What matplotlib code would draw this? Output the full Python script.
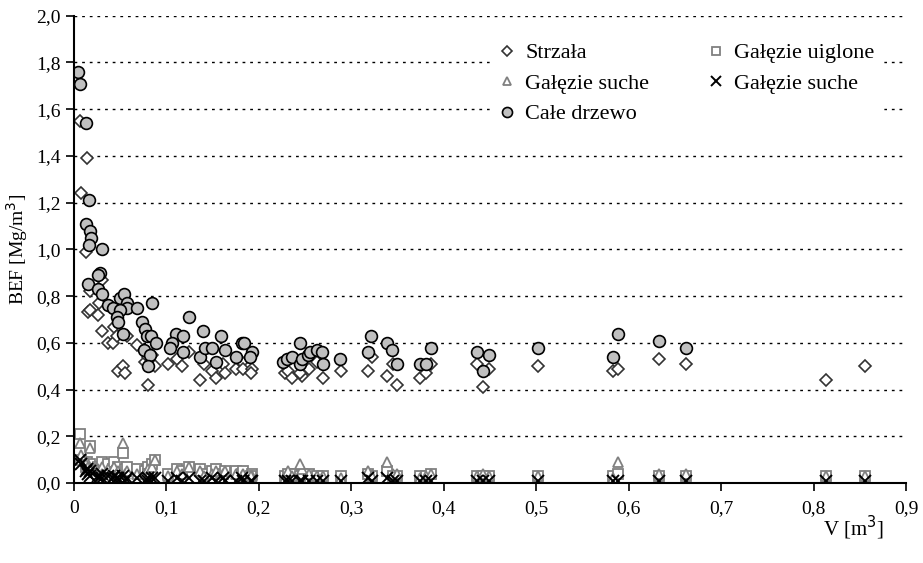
import matplotlib.pyplot as plt
from matplotlib.ticker import FuncFormatter

plt.rcParams['font.family'] = ['Liberation Serif', 'DejaVu Serif']

# Całe drzewo (circles)
v_cale = [0.004, 0.0065, 0.013, 0.016, 0.013, 0.018, 0.019, 0.016, 0.030, 0.028,
          0.026, 0.015, 0.026, 0.030, 0.037, 0.042, 0.050, 0.054, 0.057, 0.057,
          0.050, 0.068, 0.085, 0.047, 0.048, 0.053, 0.074, 0.077, 0.079, 0.083,
          0.089, 0.076, 0.082, 0.080, 0.125, 0.110, 0.106, 0.118, 0.104, 0.118,
          0.136, 0.140, 0.142, 0.149, 0.159, 0.154, 0.163, 0.175, 0.182, 0.184,
          0.193, 0.190, 0.226, 0.230, 0.236, 0.244, 0.244, 0.247, 0.253, 0.255,
          0.263, 0.268, 0.269, 0.288, 0.321, 0.318, 0.339, 0.344, 0.349, 0.374,
          0.381, 0.386, 0.436, 0.449, 0.442, 0.502, 0.588, 0.583, 0.633, 0.662]
bef_cale = [1.76, 1.71, 1.54, 1.21, 1.11, 1.08, 1.05, 1.02, 1.00, 0.90,
            0.89, 0.85, 0.83, 0.81, 0.76, 0.75, 0.79, 0.81, 0.77, 0.75,
            0.74, 0.75, 0.77, 0.71, 0.69, 0.64, 0.69, 0.66, 0.63, 0.63,
            0.60, 0.57, 0.55, 0.50, 0.71, 0.64, 0.60, 0.63, 0.58, 0.56,
            0.54, 0.65, 0.58, 0.58, 0.63, 0.52, 0.57, 0.54, 0.60, 0.60,
            0.56, 0.54, 0.52, 0.53, 0.54, 0.60, 0.51, 0.53, 0.55, 0.56,
            0.57, 0.56, 0.51, 0.53, 0.63, 0.56, 0.60, 0.57, 0.51, 0.51,
            0.51, 0.58, 0.56, 0.55, 0.48, 0.58, 0.64, 0.54, 0.61, 0.58]

# trees (Strzała and branch components)
v_drz = [0.0065, 0.0076, 0.014, 0.013, 0.015, 0.018, 0.017, 0.026, 0.027, 0.030,
         0.030, 0.037, 0.042, 0.043, 0.047, 0.048, 0.053, 0.055, 0.058, 0.068,
         0.077, 0.080, 0.080, 0.085, 0.088, 0.102, 0.111, 0.117, 0.125, 0.136,
         0.141, 0.149, 0.154, 0.161, 0.163, 0.175, 0.182, 0.183, 0.193, 0.191,
         0.228, 0.232, 0.236, 0.247, 0.244, 0.254, 0.263, 0.269, 0.289, 0.318,
         0.322, 0.339, 0.345, 0.349, 0.374, 0.381, 0.386, 0.436, 0.442, 0.449,
         0.502, 0.583, 0.588, 0.633, 0.662, 0.813, 0.855]
strzala = [1.55, 1.24, 1.39, 0.99, 0.73, 0.82, 0.74, 0.72, 0.77, 0.87,
           0.65, 0.60, 0.60, 0.67, 0.63, 0.48, 0.50, 0.47, 0.63, 0.59,
           0.52, 0.54, 0.42, 0.55, 0.50, 0.51, 0.53, 0.50, 0.56, 0.44,
           0.51, 0.48, 0.45, 0.51, 0.47, 0.49, 0.52, 0.49, 0.49, 0.47,
           0.47, 0.48, 0.45, 0.46, 0.47, 0.49, 0.52, 0.45, 0.48, 0.48,
           0.54, 0.46, 0.51, 0.42, 0.45, 0.47, 0.51, 0.51, 0.41, 0.49,
           0.50, 0.48, 0.49, 0.53, 0.51, 0.44, 0.50]
uiglone = [0.21, 0.10, 0.09, 0.07, 0.06, 0.16, 0.08, 0.07, 0.06, 0.09,
           0.05, 0.08, 0.06, 0.09, 0.05, 0.07, 0.13, 0.06, 0.07, 0.06,
           0.05, 0.07, 0.04, 0.08, 0.10, 0.04, 0.06, 0.05, 0.07, 0.06,
           0.04, 0.05, 0.06, 0.04, 0.05, 0.05, 0.04, 0.05, 0.04, 0.03,
           0.03, 0.04, 0.04, 0.04, 0.03, 0.04, 0.03, 0.03, 0.03, 0.04,
           0.03, 0.05, 0.03, 0.03, 0.03, 0.03, 0.04, 0.03, 0.03, 0.03,
           0.03, 0.03, 0.04, 0.03, 0.03, 0.03, 0.03]
suche_a = [0.17, 0.12, 0.09, 0.08, 0.07, 0.15, 0.06, 0.06, 0.05, 0.07,
           0.04, 0.06, 0.05, 0.07, 0.04, 0.05, 0.17, 0.04, 0.05, 0.04,
           0.04, 0.06, 0.03, 0.07, 0.10, 0.03, 0.05, 0.04, 0.07, 0.05,
           0.03, 0.04, 0.05, 0.04, 0.05, 0.04, 0.03, 0.04, 0.03, 0.03,
           0.02, 0.05, 0.03, 0.06, 0.08, 0.04, 0.03, 0.03, 0.02, 0.05,
           0.03, 0.09, 0.04, 0.04, 0.02, 0.03, 0.04, 0.03, 0.04, 0.03,
           0.03, 0.02, 0.09, 0.04, 0.04, 0.03, 0.03]
suche_b = [0.10, 0.08, 0.06, 0.05, 0.04, 0.05, 0.03, 0.03, 0.02, 0.04,
           0.02, 0.03, 0.02, 0.03, 0.02, 0.02, 0.03, 0.01, 0.02, 0.02,
           0.01, 0.02, 0.01, 0.02, 0.02, 0.01, 0.02, 0.01, 0.02, 0.01,
           0.01, 0.02, 0.01, 0.02, 0.01, 0.01, 0.02, 0.01, 0.01, 0.01,
           0.01, 0.01, 0.01, 0.01, 0.01, 0.01, 0.01, 0.01, 0.01, 0.02,
           0.01, 0.02, 0.01, 0.01, 0.01, 0.01, 0.01, 0.01, 0.01, 0.01,
           0.01, 0.01, 0.01, 0.01, 0.01, 0.01, 0.01]

fig = plt.figure(figsize=(9.23, 5.63), dpi=100)
ax = fig.add_axes([0.080, 0.142, 0.902, 0.830])

ax.plot(v_drz, uiglone, ls='none', marker='s', ms=7.5, mfc='white', mec='#808080', mew=1.3, label='Gałęzie uiglone')
ax.plot(v_drz, suche_a, ls='none', marker='^', ms=7.5, mfc='white', mec='#808080', mew=1.3, label='Gałęzie suche')
ax.plot(v_drz, suche_b, ls='none', marker='x', ms=8, mec='black', mew=1.4, label='Gałęzie suche ')
ax.plot(v_drz, strzala, ls='none', marker='D', ms=6, mfc='white', mec='#333333', mew=1.2, label='Strzała')
ax.plot(v_cale, bef_cale, ls='none', marker='o', ms=8.5, mfc='#c0c0c0', mec='black', mew=1.2, label='Całe drzewo')

ax.set_xlim(0, 0.9)
ax.set_ylim(0, 2.0)
ax.set_xticks([0, 0.1, 0.2, 0.3, 0.4, 0.5, 0.6, 0.7, 0.8, 0.9])
ax.set_yticks([0, 0.2, 0.4, 0.6, 0.8, 1.0, 1.2, 1.4, 1.6, 1.8, 2.0])
ax.xaxis.set_major_formatter(FuncFormatter(lambda v, p: '0' if v == 0 else f'{v:.1f}'.replace('.', ',')))
ax.yaxis.set_major_formatter(FuncFormatter(lambda v, p: f'{v:.1f}'.replace('.', ',')))
ax.tick_params(axis='both', labelsize=14, direction='out', length=6, width=1.2, colors='black')
ax.tick_params(axis='x', pad=6)
for s in ['top', 'right']:
    ax.spines[s].set_visible(False)
for s in ['left', 'bottom']:
    ax.spines[s].set_linewidth(1.5)

for y in [0.2, 0.4, 0.6, 0.8, 1.0, 1.2, 1.4, 1.6, 1.8, 2.0]:
    ax.axhline(y, color='black', lw=1, ls=(0, (2, 3.5)), zorder=0)

ax.set_ylabel('BEF [Mg/m$^3$]', fontsize=14, labelpad=4)
fig.text(0.925, 0.062, 'V [m$^3$]', fontsize=15, ha='center', va='center')

h, l = ax.get_legend_handles_labels()
order = [3, 1, 4, 0, 2]
leg = ax.legend([h[i] for i in order], ['Strzała', 'Gałęzie suche', 'Całe drzewo', 'Gałęzie uiglone', 'Gałęzie suche'],
                ncol=2, loc='upper right', bbox_to_anchor=(0.985, 0.985), fontsize=16,
                frameon=True, framealpha=1, edgecolor='white', fancybox=False,
                markerscale=0.85, handlelength=0.8, handletextpad=0.4, columnspacing=2.6, labelspacing=0.45)

fig.savefig('out.png', dpi=100)
